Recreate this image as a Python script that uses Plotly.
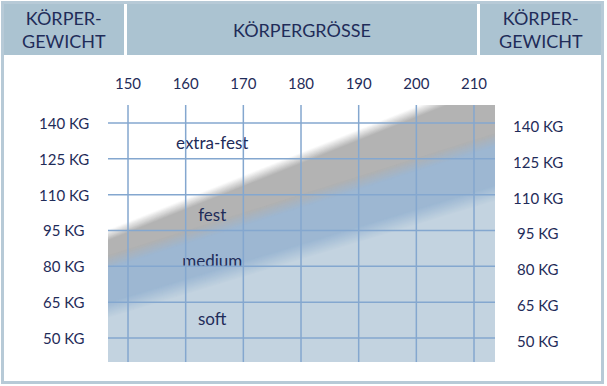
import plotly.graph_objects as go

# ---------------- data ----------------
height_ticks = [150, 160, 170, 180, 190, 200, 210]
weight_ticks = [50, 65, 80, 95, 110, 125, 140]
weight_labels = ["50 KG", "65 KG", "80 KG", "95 KG", "110 KG", "125 KG", "140 KG"]

# band boundaries (kg) read at body heights (cm)
edge_heights = [145, 215]
fest_upper = [91.7, 159.2]      # extra-fest | fest
medium_upper = [80.7, 134.0]    # fest | medium
soft_upper = [60.6, 111.7]      # medium | soft

band_names = ["extra-fest", "fest", "medium", "soft"]
band_label_x = [164.6, 164.6, 164.6, 164.6]
band_label_y = [130.8, 100.7, 81.4, 57.1]

header_left = "KÖRPER-<br>GEWICHT"
header_mid = "KÖRPERGRÖSSE"
header_right = "KÖRPER-<br>GEWICHT"

# ---------------- style ----------------
W, H = 607, 386
L, R, T, B = 108, 112, 105, 24
PW, PH = W - L - R, H - T - B
X_RANGE = [146.53, 213.64]
Y_RANGE = [39.95, 147.53]

FONT = "Lato"
NAVY = "#1f2c59"
WHITE = "#ffffff"
GRAY = "#b1b1b1"
BLUE = "#9cb7d3"
LIGHT = "#c4d4e0"
GRID = "#84a7cf"
HEADER = "#abc3d1"
FRAME = "#b7cad7"


def hex2rgb(c):
    c = c.lstrip("#")
    return tuple(int(c[i:i + 2], 16) for i in (0, 2, 4))


def mix(c1, c2, t):
    a, b = hex2rgb(c1), hex2rgb(c2)
    return "rgb(%d,%d,%d)" % tuple(round(a[i] + (b[i] - a[i]) * t) for i in range(3))


def px_x(x):
    return (x - L) / PW


def px_y(y):
    return (H - B - y) / PH


fig = go.Figure()


def soft_layer(upper, prev_col, col, width, steps=16):
    for i in range(steps):
        t = (i + 0.5) / steps
        d = width / 2 - width * i / (steps - 1)
        fig.add_trace(go.Scatter(
            x=edge_heights, y=[v + d for v in upper], mode="lines",
            line=dict(width=0), fill="tozeroy", fillcolor=mix(prev_col, col, t),
            hoverinfo="skip", showlegend=False))


soft_layer(fest_upper, WHITE, GRAY, 4.5)
soft_layer(medium_upper, GRAY, BLUE, 5.5)
soft_layer(soft_upper, BLUE, LIGHT, 6.5)

# band labels
fig.add_trace(go.Scatter(
    x=band_label_x, y=band_label_y, mode="text", text=band_names,
    textfont=dict(family=FONT, size=17, color=NAVY), textposition="middle center",
    hoverinfo="skip", showlegend=False))

shapes = []
# grid lines above fills
for xv in height_ticks:
    shapes.append(dict(type="line", xref="x", yref="y domain", x0=xv, x1=xv, y0=0, y1=1,
                       line=dict(color=GRID, width=1.5), layer="above"))
for yv in weight_ticks:
    shapes.append(dict(type="line", xref="x domain", yref="y", x0=0, x1=1, y0=yv, y1=yv,
                       line=dict(color=GRID, width=1.5), layer="above"))

# header cells
for x0, x1 in [(3, 124), (127, 477), (480, 604)]:
    shapes.append(dict(type="rect", xref="paper", yref="paper",
                       x0=px_x(x0), x1=px_x(x1), y0=px_y(55), y1=px_y(3),
                       fillcolor=HEADER, line=dict(width=0), layer="below"))
# outer frame
shapes.append(dict(type="rect", xref="paper", yref="paper",
                   x0=px_x(2.5), x1=px_x(602.5), y0=px_y(382.5), y1=px_y(2.5),
                   line=dict(color=FRAME, width=3), fillcolor="rgba(0,0,0,0)", layer="above"))

annotations = []
for txt, cx in [(header_left, 64), (header_mid, 302), (header_right, 541)]:
    annotations.append(dict(text=txt, xref="paper", yref="paper", x=px_x(cx), y=px_y(30),
                            xanchor="center", yanchor="middle", showarrow=False,
                            font=dict(family=FONT, size=18, color=NAVY)))
for yv, lab in zip(weight_ticks, weight_labels):
    annotations.append(dict(text=lab, xref="paper", yref="y", x=px_x(64), y=yv,
                            xanchor="center", yanchor="middle", showarrow=False,
                            font=dict(family=FONT, size=15, color=NAVY)))
    annotations.append(dict(text=lab, xref="paper", yref="y", x=px_x(538), y=yv, yshift=-3,
                            xanchor="center", yanchor="middle", showarrow=False,
                            font=dict(family=FONT, size=15, color=NAVY)))

fig.update_layout(
    width=W, height=H, margin=dict(l=L, r=R, t=T, b=B),
    paper_bgcolor=WHITE, plot_bgcolor=WHITE,
    shapes=shapes, annotations=annotations, showlegend=False,
    xaxis=dict(range=X_RANGE, side="top", tickvals=height_ticks, ticks="",
               showgrid=False, zeroline=False, showline=False, fixedrange=True,
               tickfont=dict(family=FONT, size=15, color=NAVY), ticklabelstandoff=12),
    yaxis=dict(range=Y_RANGE, showticklabels=False, ticks="", showgrid=False,
               zeroline=False, showline=False, fixedrange=True),
)

fig.write_html("out.html", config={"displayModeBar": False},
               post_script="document.body.style.margin='0';document.body.style.overflow='hidden';")
